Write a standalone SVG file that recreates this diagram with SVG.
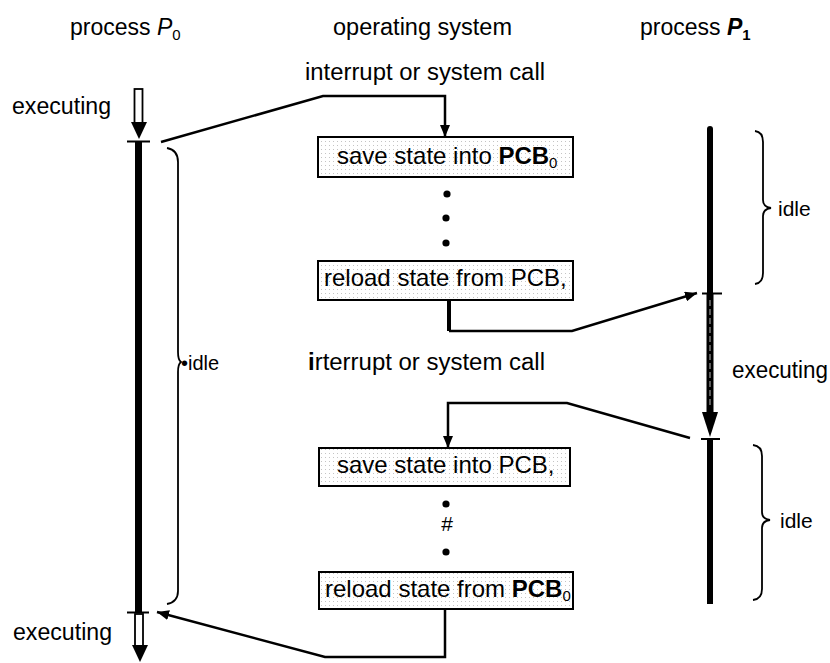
<svg xmlns="http://www.w3.org/2000/svg" width="830" height="663" viewBox="0 0 830 663">
<style>
text{font-family:"Liberation Sans",Arial,sans-serif;fill:#000}
.lbl{font-size:23px}
.box{fill:url(#stip);stroke:#000;stroke-width:2}
.bt{font-size:24px}
.sub{font-size:15px}
.con{fill:none;stroke:#000;stroke-width:2.5;stroke-linejoin:miter}
.brace{fill:none;stroke:#000;stroke-width:1.8}
.tick{stroke:#000;stroke-width:2}
.exec{fill:#fff;stroke:#000;stroke-width:1.8}
</style>
<defs>
<pattern id="stip" width="4" height="4" patternUnits="userSpaceOnUse">
<rect width="4" height="4" fill="#fff"/>
<rect x="1" y="1" width="1" height="1" fill="#c4c4c4"/>
</pattern>
<marker id="ah" viewBox="0 0 12 10" refX="12" refY="5" markerWidth="12" markerHeight="10" markerUnits="userSpaceOnUse" orient="auto">
<path d="M0,0 L12,5 L0,10 Z" fill="#000"/>
</marker>
</defs>

<g id="headers">
<text class="lbl" x="70" y="35">process <tspan font-style="italic">P</tspan><tspan class="sub" dy="5">0</tspan></text>
<text class="lbl" x="333" y="35" textLength="179" lengthAdjust="spacingAndGlyphs">operating system</text>
<text class="lbl" x="640" y="35">process <tspan font-style="italic" font-weight="bold">P</tspan><tspan class="sub" font-weight="bold" dy="5">1</tspan></text>
</g>

<g id="p0">
<rect class="exec" x="134.5" y="89" width="8" height="34"/>
<polygon points="131,122 147,122 139,139" fill="#000"/>
<line class="tick" x1="127" y1="141.5" x2="150" y2="141.5"/>
<line x1="138.5" y1="142" x2="138.5" y2="612" stroke="#000" stroke-width="7"/>
<line class="tick" x1="127" y1="612.5" x2="149" y2="612.5"/>
<rect class="exec" x="135" y="614" width="8" height="32"/>
<polygon points="132,645 148,645 140,662" fill="#000"/>
<path class="brace" d="M167,148 Q178,150 178,162 L178,352 Q178,360 181,362 Q178,364 178,372 L178,591 Q178,602 167,604"/>
<text class="lbl" x="12" y="114" textLength="99" lengthAdjust="spacingAndGlyphs">executing</text>
<text class="lbl" x="13" y="640" textLength="99" lengthAdjust="spacingAndGlyphs">executing</text>
<text x="181" y="370" font-size="20">•idle</text>
</g>

<g id="p1">
<line x1="710" y1="129" x2="710" y2="293" stroke="#000" stroke-width="6" stroke-linecap="round"/>
<line class="tick" x1="702" y1="293.5" x2="722" y2="293.5"/>
<rect x="706.5" y="294" width="7" height="119" fill="#000"/>
<line x1="710" y1="300" x2="710" y2="408" stroke="#9a9a9a" stroke-width="1.2" stroke-dasharray="6,3"/>
<polygon points="702,412 718,412 710,437" fill="#000"/>
<line class="tick" x1="701" y1="439" x2="720" y2="439"/>
<line x1="710" y1="440" x2="710" y2="604" stroke="#000" stroke-width="6"/>
<path class="brace" d="M755,131 Q763,132 763,142 L763,200 Q763,207 771,208 Q763,209 763,216 L763,273 Q763,283 755,284"/>
<path class="brace" d="M753,445 Q762,446 762,456 L762,512 Q762,519 770,520 Q762,521 762,528 L762,589 Q762,599 753,600"/>
<text class="lbl" x="732" y="378" textLength="96" lengthAdjust="spacingAndGlyphs">executing</text>
<text x="778" y="216" font-size="21">idle</text>
<text x="780" y="528" font-size="21">idle</text>
</g>

<g id="box1">
<rect class="box" x="318" y="137" width="255" height="40"/>
<text class="bt" x="337" y="164">save state into <tspan font-weight="bold">PCB</tspan><tspan class="sub" dy="4">0</tspan></text>
</g>
<g id="box2">
<rect class="box" x="318" y="261" width="255" height="39"/>
<text class="bt" x="324" y="286">reload state from PCB,</text>
</g>
<g id="box3">
<rect class="box" x="319" y="448" width="251" height="38"/>
<text class="bt" x="337" y="473">save state into PCB,</text>
</g>
<g id="box4">
<rect class="box" x="319" y="572" width="254" height="37"/>
<text class="bt" x="325" y="597">reload state from <tspan font-weight="bold">PCB</tspan><tspan class="sub" dy="4">0</tspan></text>
</g>

<g id="ellipsis">
<circle cx="447" cy="194" r="3.6"/>
<circle cx="446" cy="218" r="3.6"/>
<circle cx="446" cy="243" r="3.6"/>
<circle cx="446" cy="504" r="3.6"/>
<text x="447" y="531" font-size="21" text-anchor="middle">#</text>
<circle cx="446" cy="552" r="3.6"/>
</g>

<g id="mid-labels">
<text class="lbl" x="305" y="80" textLength="240" lengthAdjust="spacingAndGlyphs">interrupt or system call</text>
<text class="lbl" x="308" y="370" textLength="237" lengthAdjust="spacingAndGlyphs"><tspan font-weight="bold">i</tspan>rterrupt or system call</text>
</g>

<g id="connectors">
<polyline class="con" points="161,142 323,96 445,96 445,137" marker-end="url(#ah)"/>
<line x1="449" y1="301" x2="449" y2="331" stroke="#000" stroke-width="4"/>
<polyline class="con" points="449,331 572,331 697,293" marker-end="url(#ah)"/>
<polyline class="con" points="690,438 567,403 448,403 448,448" marker-end="url(#ah)"/>
<polyline class="con" points="445,609 445,657 325,657 157,612" marker-end="url(#ah)"/>
</g>
</svg>
